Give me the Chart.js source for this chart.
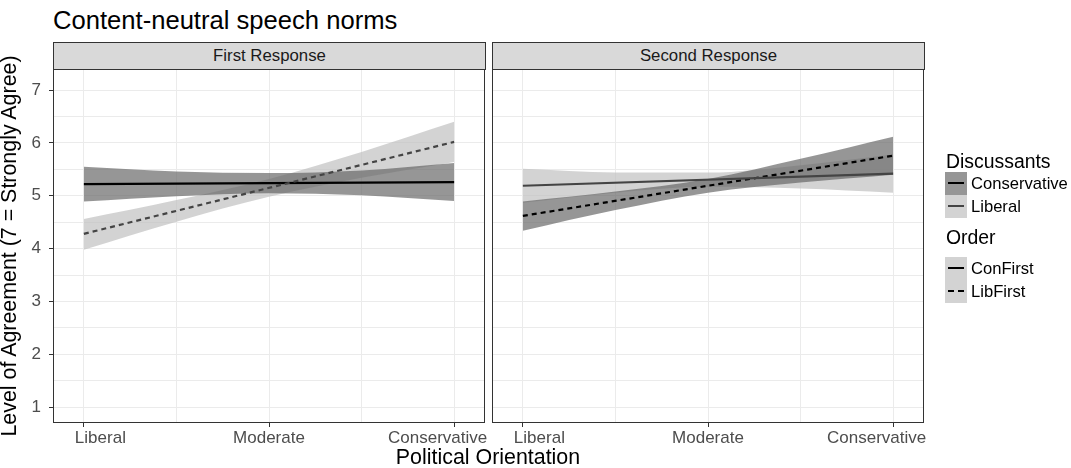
<!DOCTYPE html>
<html>
<head>
<meta charset="utf-8">
<script src="https://cdn.jsdelivr.net/npm/chart.js@4/dist/chart.umd.min.js"></script>
<style>
  body { margin: 0; background: #fff; font-family: 'Liberation Sans', Arial, sans-serif; }
  #wrap { position: relative; width: 1071px; height: 468px; overflow: hidden; }
  canvas { position: absolute; }
  .txt { position: absolute; white-space: nowrap; color: #000; }
  .strip { position: absolute; box-sizing: border-box; background: #d9d9d9; border: 1px solid #333;
           font-size: 16.8px; color: #1a1a1a; text-align: center; line-height: 25px; }
  .lrow { position: absolute; left: 945px; height: 23px; display: flex; align-items: center; font-size: 16.6px; color: #000; }
  .lkey { position: relative; width: 22px; height: 23px; margin-right: 4px; }
  .lkey .ln { position: absolute; left: 3px; right: 3px; top: 10px; height: 0; border-top: 2.2px solid #000; }
</style>
</head>
<body>
<div id="wrap">
  <div class="txt" style="left:53px; top:7px; font-size:25.6px; line-height:26px;">Content-neutral speech norms</div>
  <div class="strip" style="left:53px; top:42px; width:433px; height:28px;">First Response</div>
  <div class="strip" style="left:492px; top:42px; width:433px; height:28px;">Second Response</div>
  <canvas id="panel1" width="500" height="404" style="left:0px; top:64px;"></canvas>
  <canvas id="panel2" width="470" height="404" style="left:480px; top:64px;"></canvas>
  <div class="txt" style="left:288px; width:400px; text-align:center; top:446px; font-size:21.4px; line-height:22px;">Political Orientation</div>
  <div class="txt" style="left:-201px; width:420px; text-align:center; top:235px; font-size:21.4px; line-height:22px; transform:rotate(-90deg);">Level of Agreement (7 = Strongly Agree)</div>
  <div id="legend"></div>
</div>
<script>
//------------------------------------------- Data -------------------------------------------//
const xTicks = [1, 4, 7];
const xTickLabels = ['Liberal', 'Moderate', 'Conservative'];
const xGrid = [1, 2.5, 4, 5.5, 7];
const yGrid = [1, 1.5, 2, 2.5, 3, 3.5, 4, 4.5, 5, 5.5, 6, 6.5, 7];
const yTicks = [1, 2, 3, 4, 5, 6, 7];

const lineX = [1, 7];
const bandX = [1, 2.5, 4, 5.5, 7];

// First Response
const first_con_line  = [5.22, 5.26];
const first_con_upper = [5.55, 5.46, 5.43, 5.48, 5.62];
const first_con_lower = [4.89, 4.99, 5.05, 5.01, 4.90];
const first_lib_line  = [4.28, 6.02];
const first_lib_upper = [4.56, 4.92, 5.32, 5.83, 6.40];
const first_lib_lower = [3.98, 4.51, 4.98, 5.34, 5.64];

// Second Response
const second_lib_line  = [5.19, 5.42];
const second_lib_upper = [5.51, 5.44, 5.44, 5.58, 5.78];
const second_lib_lower = [4.87, 5.06, 5.17, 5.14, 5.06];
const second_con_line  = [4.62, 5.76];
const second_con_upper = [4.89, 5.08, 5.32, 5.70, 6.12];
const second_con_lower = [4.34, 4.73, 5.06, 5.25, 5.40];

// Legend
const discussantNames = ['Conservative', 'Liberal'];
const orderNames = ['ConFirst', 'LibFirst'];

//------------------------------------------- Styles -------------------------------------------//
const darkFill = 'rgba(100,100,100,0.68)';
const lightFill = 'rgba(190,190,190,0.68)';
const conColor = '#000000';
const libColor = '#444444';
const dashed = [5, 4];
const gridColor = '#ebebeb';
const tickFont = { family: "'Liberation Sans', Arial, sans-serif", size: 17 };

Chart.defaults.font.family = "'Liberation Sans', Arial, sans-serif";

function pts(xs, ys) {
    return xs.map((x, i) => ({ x: x, y: ys[i] }));
}

// labels sit a bit off their ticks in the original, pad them with spaces
function xLabel(v) {
    const i = xTicks.indexOf(v);
    if (i < 0) return '';
    if (i === 0) return '       ' + xTickLabels[i];
    if (i === xTicks.length - 1) return xTickLabels[i] + '       ';
    return xTickLabels[i];
}

const panelBorder = {
    id: 'panelBorder',
    afterDraw(chart) {
        const a = chart.chartArea;
        const c = chart.ctx;
        c.save();
        c.strokeStyle = '#333333';
        c.lineWidth = 1;
        c.strokeRect(Math.round(a.left) + 0.5, Math.round(a.top) + 0.5,
                     Math.round(a.right - a.left) - 1, Math.round(a.bottom - a.top) - 1);
        c.restore();
    }
};

//------------------------------------------- Panels -------------------------------------------//
function createPanel(canvasId, groups, showY, padRight, yWidth) {
    const datasets = [];
    groups.forEach(g => {
        datasets.push({ data: pts(bandX, g.lower), borderColor: 'transparent', borderWidth: 0,
                        pointRadius: 0, fill: false, order: g.bandOrder, cubicInterpolationMode: 'monotone' });
        datasets.push({ data: pts(bandX, g.upper), borderColor: 'transparent', borderWidth: 0,
                        pointRadius: 0, fill: '-1', backgroundColor: g.fill, order: g.bandOrder,
                        cubicInterpolationMode: 'monotone' });
    });
    groups.forEach(g => {
        datasets.push({ data: pts(lineX, g.line), borderColor: g.color, borderWidth: 2.2,
                        borderDash: g.dash, pointRadius: 0, fill: false, order: 0 });
    });

    return new Chart(document.getElementById(canvasId), {
        type: 'line',
        data: { datasets: datasets },
        options: {
            responsive: false,
            animation: false,
            devicePixelRatio: 1,
            layout: { padding: { left: 0, right: padRight, top: 5, bottom: 0 } },
            plugins: { legend: { display: false }, tooltip: { enabled: false } },
            scales: {
                x: {
                    type: 'linear', min: 0.5, max: 7.5,
                    afterBuildTicks: s => { s.ticks = xGrid.map(v => ({ value: v })); },
                    afterFit: s => { s.height = 45; s.paddingLeft = 0; s.paddingRight = 0; },
                    border: { display: false },
                    grid: {
                        color: gridColor, lineWidth: 1, tickLength: 4, tickWidth: 1,
                        tickColor: ctx => xTicks.includes(ctx.tick.value) ? '#333333' : 'rgba(0,0,0,0)'
                    },
                    ticks: { autoSkip: false, maxRotation: 0, minRotation: 0, padding: 1,
                             color: '#4d4d4d', font: tickFont, callback: v => xLabel(v) }
                },
                y: {
                    type: 'linear', min: 0.7, max: 7.4,
                    afterBuildTicks: s => { s.ticks = yGrid.map(v => ({ value: v })); },
                    afterFit: s => { s.width = yWidth; s.paddingTop = 0; s.paddingBottom = 0; },
                    border: { display: false },
                    grid: {
                        color: gridColor, lineWidth: 1, drawTicks: showY, tickLength: 4, tickWidth: 1,
                        tickColor: ctx => yTicks.includes(ctx.tick.value) ? '#333333' : 'rgba(0,0,0,0)'
                    },
                    ticks: { display: showY, autoSkip: false, padding: 8, color: '#4d4d4d', font: tickFont,
                             callback: v => yTicks.includes(v) ? String(v) : '' }
                }
            }
        },
        plugins: [panelBorder]
    });
}

var chart1 = createPanel('panel1', [
    { line: first_lib_line, upper: first_lib_upper, lower: first_lib_lower, fill: lightFill, bandOrder: 2, color: libColor, dash: dashed },
    { line: first_con_line, upper: first_con_upper, lower: first_con_lower, fill: darkFill, bandOrder: 1, color: conColor, dash: [] }
], true, 15, 53);

var chart2 = createPanel('panel2', [
    { line: second_lib_line, upper: second_lib_upper, lower: second_lib_lower, fill: lightFill, bandOrder: 2, color: libColor, dash: [] },
    { line: second_con_line, upper: second_con_upper, lower: second_con_lower, fill: darkFill, bandOrder: 1, color: conColor, dash: dashed }
], false, 26, 12);

//------------------------------------------- Legend -------------------------------------------//
function legendTitle(text, top) {
    return '<div class="txt" style="left:946px; top:' + top + 'px; font-size:19.4px; line-height:20px;">' + text + '</div>';
}
function legendRow(name, top, fill, color, dash) {
    const style = 'border-top:2.2px ' + (dash ? 'dashed ' : 'solid ') + color + ';';
    return '<div class="lrow" style="top:' + top + 'px;"><div class="lkey" style="background:' + fill + ';">' +
           '<div class="ln" style="' + style + '"></div></div>' + name + '</div>';
}

var html = legendTitle('Discussants', 151);
html += legendRow(discussantNames[0], 172, darkFill, conColor, false);
html += legendRow(discussantNames[1], 195, lightFill, libColor, false);
html += legendTitle('Order', 227);
html += legendRow(orderNames[0], 257, lightFill, conColor, false);
html += legendRow(orderNames[1], 280, lightFill, conColor, true);
document.getElementById('legend').innerHTML = html;
</script>
</body>
</html>
